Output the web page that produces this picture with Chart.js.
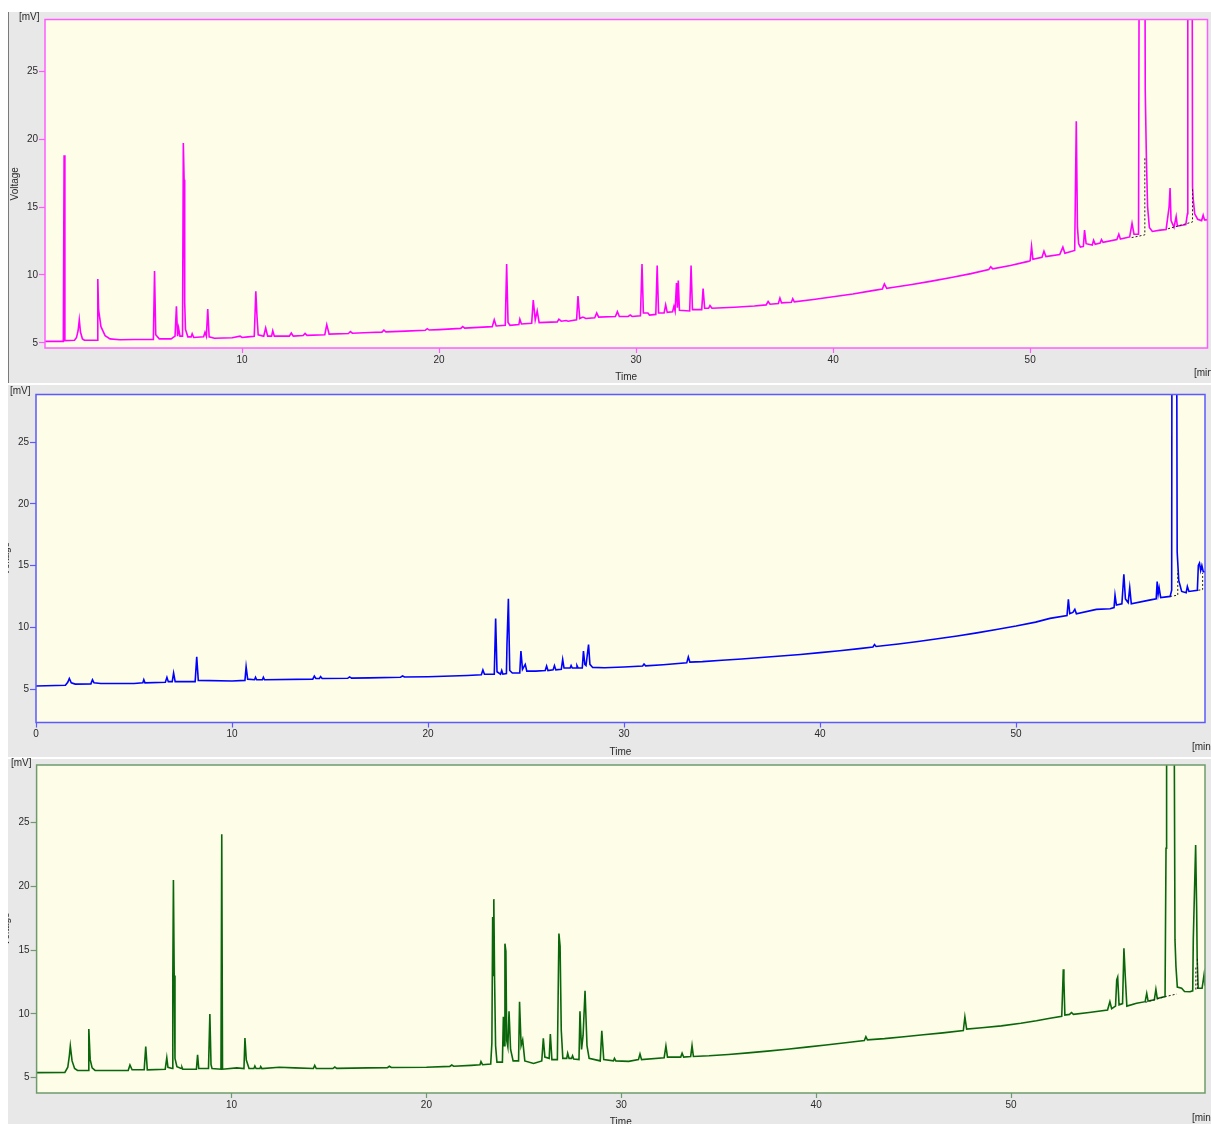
<!DOCTYPE html>
<html>
<head>
<meta charset="utf-8">
<title>Chromatograms</title>
<script src="https://cdn.jsdelivr.net/npm/chart.js@4.4.1/dist/chart.umd.min.js"></script>
<style>
  html, body { margin: 0; padding: 0; width: 1211px; height: 1124px; overflow: hidden; background: #ffffff; }
  .panel { position: absolute; background: #e8e8e8; }
  .panel canvas { display: block; }
  .lbl { position: absolute; font: 10px "Liberation Sans", Arial, sans-serif; color: #2a2a2a; white-space: nowrap; line-height: 12px; z-index: 5; }
</style>
</head>
<body>
<div class="panel" style="left:8px;top:12px;width:1203px;height:371px;"><canvas id="runA" width="1203" height="371"></canvas></div>
<div style="position:absolute;left:8px;top:12px;width:1px;height:371px;background:#7a7a7a;z-index:4;"></div>
<div class="panel" style="left:8px;top:385px;width:1203px;height:372px;"><canvas id="runB" width="1203" height="372"></canvas></div>
<div class="panel" style="left:8px;top:759px;width:1203px;height:370px;"><canvas id="runC" width="1203" height="370"></canvas></div>

<div class="lbl" style="left:19px;top:11px;">[mV]</div>
<div class="lbl" style="left:1194px;top:367px;">[min.]</div>
<div class="lbl" style="left:10px;top:385px;">[mV]</div>
<div class="lbl" style="left:1192px;top:741px;">[min.]</div>
<div class="lbl" style="left:11px;top:757px;">[mV]</div>
<div class="lbl" style="left:1192px;top:1112px;">[min.]</div>

<script>
// Tick values shared by the three runs
const voltageTicks = [5, 10, 15, 20, 25];
const timeTicksNoZero = [10, 20, 30, 40, 50];
const timeTicksWithZero = [0, 10, 20, 30, 40, 50];

// Run A (magenta): [time min, signal mV]
const magentaTrace = [
  [0,5.12],[0.93,5.12],[0.97,18.8],[1.01,5.17],[1.5,5.2],[1.6,5.4],[1.68,5.9],[1.74,6.7],[1.8,5.8],[1.9,5.3],[2.0,5.2],
  [2.64,5.2],[2.68,9.7],[2.72,7.45],[2.84,6.2],[3.05,5.54],[3.3,5.3],[3.8,5.24],[4.5,5.25],[5.5,5.25],[5.56,10.3],[5.62,5.6],
  [5.8,5.3],[6.4,5.3],[6.6,5.5],[6.67,7.7],[6.73,5.5],[6.78,6.1],[6.85,5.5],[6.98,5.5],[7.02,19.7],[7.06,17.0],[7.09,8.0],
  [7.13,6.0],[7.25,5.45],[7.42,5.45],[7.47,5.68],[7.55,5.4],[8.05,5.45],[8.12,5.78],[8.19,5.5],[8.26,7.5],[8.33,5.45],
  [8.6,5.35],[9.5,5.38],[9.9,5.5],[10.0,5.4],[10.3,5.45],[10.62,5.5],[10.7,8.8],[10.76,6.95],[10.82,5.6],[11.1,5.5],
  [11.2,6.1],[11.3,5.5],[11.5,5.5],[11.56,5.9],[11.64,5.5],[12.4,5.5],[12.5,5.73],[12.6,5.5],[13.1,5.55],[13.2,5.7],
  [13.3,5.56],[14.2,5.6],[14.3,6.35],[14.42,5.65],[15.4,5.7],[15.5,5.84],[15.6,5.72],[16.5,5.77],[17.1,5.8],[17.2,5.94],
  [17.3,5.82],[18.3,5.87],[19.3,5.93],[19.4,6.05],[19.5,5.95],[20,5.98],[21.1,6.07],[21.2,6.2],[21.3,6.09],[22,6.15],
  [22.7,6.2],[22.8,6.7],[22.9,6.25],[23.36,6.3],[23.43,10.8],
  [23.5,6.5],[23.6,6.3],[24.05,6.35],[24.1,6.75],[24.18,6.4],[24.7,6.45],[24.78,8.15],[24.88,6.7],[24.98,7.35],[25.08,6.5],
  [26.0,6.55],[26.08,6.75],[26.2,6.6],[26.45,6.65],[26.55,6.6],[26.98,6.7],[27.05,8.45],[27.14,6.8],[27.3,6.9],[27.45,6.8],
  [27.9,6.85],[28.0,7.2],[28.1,6.9],[28.95,6.95],[29.05,7.3],[29.15,6.95],[29.6,6.95],[29.7,7.05],[29.8,6.95],[30.22,7.0],
  [30.3,10.8],[30.37,7.2],[30.6,7.2],[30.68,7.05],[31.0,7.1],[31.07,10.7],[31.14,7.2],[31.42,7.2],[31.5,7.8],[31.58,7.25],
  [31.85,7.3],[31.92,7.7],[31.98,7.35],[32.05,9.4],[32.1,7.6],[32.14,9.6],[32.2,7.4],[32.72,7.35],[32.79,10.7],[32.86,7.45],
  [33.33,7.45],[33.4,9.0],[33.48,7.55],[33.68,7.55],[33.75,7.75],[33.85,7.55],[35,7.63],[36,7.72],[36.6,7.8],[36.7,8.05],
  [36.8,7.85],[37.22,7.9],[37.3,8.3],[37.38,7.95],[37.88,8.0],[37.95,8.25],[38.03,8.02],[39,8.2],[40,8.4],[41,8.6],
  [42,8.85],[42.5,8.97],[42.6,9.35],[42.72,9.02],[43,9.08],[44,9.3],[45,9.55],[46,9.82],[47,10.1],[47.9,10.4],[48.0,10.6],
  [48.1,10.45],[49,10.7],[49.9,11.0],[50.0,11.05],[50.07,12.1],[50.14,11.15],[50.6,11.3],
  [50.7,11.75],[50.8,11.35],[51.5,11.5],[51.66,12.05],[51.76,11.6],[52.26,11.8],[52.34,21.3],[52.4,13.5],[52.46,12.3],
  [52.55,12.05],[52.7,12.1],[52.76,13.3],[52.84,12.3],[53.15,12.2],[53.22,12.55],[53.3,12.25],[53.55,12.35],[53.62,12.6],
  [53.7,12.4],[54.4,12.6],[54.5,13.0],[54.58,12.65],[55.05,12.8],[55.17,13.8],[55.27,13.0],[55.5,13.0],[55.55,45],
  [55.81,45],[55.84,23.6],[55.9,18.5],[55.96,15.0],[56.05,13.5],[56.2,13.2],[56.6,13.3],[56.9,13.35],[57.05,15.0],
  [57.1,16.4],[57.15,14.0],[57.3,13.5],[57.41,14.3],[57.47,13.6],[57.9,13.7],[57.98,14.5],[58.0,45],[58.21,45],[58.24,16.5],
  [58.28,15.5],[58.35,14.5],[58.5,14.1],[58.7,14.0],[58.78,14.4],[58.85,14.05],[59.0,14.05]
];
const magentaDrops = [[55.15,12.75],[55.82,12.95],[55.82,18.6],[55.82,null],[57.0,13.4],[58.24,13.9],[58.24,16.3]];

// Run B (blue)
const blueTrace = [
  [0,5.25],[1.5,5.3],[1.62,5.55],[1.7,5.85],[1.8,5.5],[2.0,5.4],[2.8,5.42],[2.88,5.75],[2.96,5.5],[3.3,5.45],[5.0,5.45],
  [5.45,5.5],[5.5,5.75],[5.56,5.5],[6.6,5.55],[6.68,5.95],[6.75,5.6],[6.95,5.6],[7.02,6.3],[7.1,5.6],[8.12,5.6],[8.2,7.6],
  [8.28,5.7],[10.0,5.65],[10.66,5.7],[10.72,6.8],[10.8,5.8],[11.15,5.75],[11.2,5.95],[11.26,5.75],[11.55,5.75],[11.6,5.95],
  [11.66,5.75],[14.12,5.8],[14.2,6.05],[14.28,5.85],[14.46,5.85],[14.52,6.0],[14.6,5.85],[15.9,5.87],[16.0,5.98],[16.1,5.88],
  [17,5.9],[18.6,5.96],[18.7,6.06],[18.8,5.97],[20,6.0],[22.0,6.1],
  [22.72,6.15],[22.8,6.55],[22.88,6.2],[23.38,6.2],[23.45,10.7],[23.52,6.4],[23.7,6.2],[23.76,6.5],[23.82,6.2],[24.0,6.25],
  [24.03,8.7],[24.1,12.3],[24.17,6.5],[24.3,6.3],[24.68,6.3],[24.74,8.08],[24.82,6.6],[24.96,7.0],[25.04,6.45],[25.5,6.45],
  [25.98,6.5],[26.05,6.86],[26.12,6.5],[26.38,6.55],[26.45,6.9],[26.52,6.55],[26.8,6.6],[26.87,7.4],[26.94,6.7],[27.25,6.7],
  [27.3,6.9],[27.36,6.7],[27.55,6.7],[27.6,6.9],[27.66,6.7],[27.87,6.7],[27.93,8.08],[28.0,7.0],[28.06,6.9],[28.19,8.6],
  [28.26,7.0],[28.4,6.75],[29,6.72],[30,6.78],[30.95,6.87],[31.02,7.02],[31.1,6.88],[32,6.97],[33.2,7.12],[33.28,7.6],
  [33.36,7.18],[34,7.22],[35,7.33],[36,7.43],[37,7.55],[38,7.67],[39,7.8],[40,7.95],[41,8.1],[42,8.27],[42.7,8.4],
  [42.78,8.6],[42.86,8.45],[44,8.65],[45,8.85],[46,9.07],[47,9.3],[48,9.55],[49,9.82],[50,10.1],[51,10.42],[51.73,10.72],
  [52.6,10.95],
  [52.67,12.26],[52.74,11.1],[52.9,11.2],[53.0,11.45],[53.08,11.1],[54.1,11.45],[54.8,11.5],[55.0,11.6],[55.05,12.6],
  [55.12,11.8],[55.4,11.9],[55.5,14.3],[55.58,12.3],[55.72,12.0],[55.8,13.2],[55.88,11.9],[56.8,12.2],[57.15,12.3],
  [57.2,13.7],[57.25,12.7],[57.3,13.2],[57.38,12.4],[57.86,12.5],[57.94,13.0],[57.96,45],[58.18,45],[58.22,16.1],
  [58.3,13.8],[58.45,12.9],[58.68,12.8],[58.74,13.3],[58.82,12.9],[59.25,13.0],[59.3,15.0],[59.36,15.2],[59.42,14.6],
  [59.48,15.0],[59.55,14.5],[59.64,14.5]
];
const blueDrops = [[57.86,12.5],[58.25,12.6],[58.25,14.6],[58.25,null],[59.3,13.0],[59.52,13.05],[59.52,14.4]];

// Run C (green)
const greenTrace = [
  [0,5.38],[1.45,5.4],[1.6,5.8],[1.68,6.7],[1.73,7.47],[1.82,6.3],[1.95,5.7],[2.1,5.55],[2.64,5.55],[2.68,8.8],[2.75,6.4],
  [2.85,5.75],[3.0,5.55],[4.7,5.55],[4.79,5.98],[4.9,5.6],[5.52,5.6],[5.6,7.42],[5.68,5.6],[6.6,5.65],[6.68,6.55],
  [6.74,5.8],[6.96,5.7],[6.99,13.0],[7.02,20.5],[7.06,13.0],[7.1,6.5],[7.2,5.85],[7.42,5.7],[7.46,5.8],[7.5,5.65],
  [8.2,5.65],[8.26,6.77],[8.32,5.7],[8.82,5.7],[8.89,9.98],[8.95,6.0],[9.0,5.7],[9.46,5.65],[9.5,24.1],[9.54,5.65],
  [10.27,5.75],[10.64,5.7],[10.69,8.1],[10.76,6.37],[10.9,5.7],[11.15,5.7],[11.2,5.9],[11.26,5.7],[11.46,5.7],[11.5,5.85],
  [11.56,5.7],[12.45,5.8],[13.25,5.75],[14.2,5.7],[14.27,5.95],[14.35,5.7],[15.2,5.7],[15.3,5.82],[15.4,5.71],[17,5.75],
  [18.0,5.77],[18.1,5.88],[18.2,5.78],[20,5.8],[21.2,5.87],[21.3,5.98],[21.4,5.88],[22.3,5.95],[22.75,6.0],
  [22.8,6.24],[22.88,6.0],[23.3,6.05],[23.36,7.7],[23.4,17.6],[23.43,13.0],[23.46,19.0],[23.5,12.6],[23.55,7.5],[23.62,6.2],
  [23.9,6.2],[23.95,9.77],[23.99,7.5],[24.03,15.5],[24.08,14.9],[24.12,7.9],[24.18,7.4],[24.24,10.2],[24.32,7.2],[24.45,6.3],
  [24.73,6.3],[24.78,10.95],[24.86,7.5],[24.94,7.95],[25.05,6.3],[25.5,6.1],[25.92,6.3],[26.0,8.07],[26.08,6.6],[26.3,6.5],
  [26.36,8.41],[26.44,6.4],[26.72,6.4],[26.8,16.3],[26.86,15.3],[26.92,8.7],[27.0,6.5],[27.2,6.5],[27.25,6.9],[27.32,6.5],
  [27.45,6.5],[27.5,6.7],[27.56,6.45],[27.83,6.4],[27.88,10.2],[27.96,7.2],[28.04,8.3],[28.14,11.8],[28.24,7.5],[28.35,6.5],
  [28.92,6.3],[29.0,8.67],[29.1,6.4],[29.6,6.3],[29.65,6.5],[29.72,6.3],[30.38,6.26],[30.88,6.4],[30.96,6.84],[31.04,6.4],
  [32.2,6.55],[32.29,7.47],[32.37,6.6],[33.05,6.6],[33.12,6.9],[33.2,6.6],[33.56,6.65],[33.63,7.5],[33.7,6.65],[34.5,6.7],
  [35.5,6.8],[36.5,6.93],[37.5,7.07],[38.5,7.22],[39.5,7.38],[40.5,7.55],[41.5,7.72],[42.47,7.9],[42.55,8.2],[42.63,7.95],
  [43.5,8.05],[44.5,8.2],[45.5,8.35],[46.5,8.5],[47.55,8.68],[47.63,9.75],[47.72,8.8],[48.5,8.9],[49.5,9.05],[50.5,9.25],
  [51.3,9.45],[52.0,9.65],[52.6,9.8],[52.68,13.5],[52.71,12.65],[52.76,9.9],[53.0,9.95],[53.1,10.1],[53.2,9.95],[54.0,10.1],
  [54.95,10.3],
  [55.07,10.95],[55.16,10.4],[55.36,10.6],[55.42,12.65],[55.47,12.87],[55.54,10.7],[55.72,10.8],[55.79,15.14],[55.86,12.9],
  [55.94,10.6],[56.44,10.82],[56.88,10.95],[56.96,11.6],[57.03,11.0],[57.35,11.1],[57.43,11.92],[57.5,11.2],[57.9,11.35],
  [57.95,23.0],[57.98,45],[58.34,45],[58.41,15.8],[58.46,13.7],[58.53,12.1],[58.75,12.0],[58.9,11.75],[59.18,11.73],
  [59.32,11.8],[59.35,15.9],[59.47,23.25],[59.52,18.4],[59.55,14.2],[59.6,12.0],[59.8,12.0],[59.9,13.05],[59.95,12.2]
];
const greenDrops = [[56.9,10.9],[57.92,11.35],[58.5,11.55],[58.5,null],[59.48,11.9],[59.48,13.7],[59.48,null],[59.56,11.95],[59.56,14.4]];

const FONT = { family: '"Liberation Sans", Arial, sans-serif', size: 10 };

// Fills the plot area and outlines it in the run colour
const framePlugin = {
  id: 'frame',
  beforeDraw(chart, args, opts) {
    const { ctx, chartArea: a } = chart;
    ctx.save();
    ctx.fillStyle = opts.fill;
    ctx.fillRect(a.left, a.top, a.right - a.left, a.bottom - a.top);
    ctx.restore();
  },
  afterDraw(chart, args, opts) {
    const { ctx, chartArea: a } = chart;
    ctx.save();
    ctx.strokeStyle = opts.stroke;
    ctx.lineWidth = opts.width;
    ctx.strokeRect(a.left, a.top, a.right - a.left, a.bottom - a.top);
    ctx.restore();
  }
};

function zeroPadding(s) {
  s.paddingLeft = 0; s.paddingRight = 0; s.paddingTop = 0; s.paddingBottom = 0;
}

function buildRun(id, o) {
  return new Chart(document.getElementById(id), {
    type: 'line',
    data: {
      datasets: [
        { data: o.trace, borderColor: o.lineColor, borderWidth: 1.6, pointRadius: 0, tension: 0, order: 2 },
        { data: o.drops, borderColor: '#1e1e1e', borderWidth: 1, borderDash: [2, 2], pointRadius: 0, tension: 0, order: 1 }
      ]
    },
    options: {
      responsive: false,
      animation: false,
      devicePixelRatio: 1,
      layout: { padding: o.pad },
      plugins: {
        legend: { display: false },
        tooltip: { enabled: false },
        frame: { fill: '#fdfde8', stroke: o.frameColor, width: 1.5 }
      },
      scales: {
        x: {
          type: 'linear', min: 0, max: o.xMax, bounds: 'data',
          afterBuildTicks: s => { s.ticks = o.xTicks.map(v => ({ value: v })); },
          afterFit: s => { s.height = o.xAxisH; zeroPadding(s); },
          grid: { display: true, drawOnChartArea: false, drawTicks: true, tickLength: 5, tickColor: o.frameColor, tickWidth: 1.2 },
          border: { display: false },
          ticks: { color: '#2a2a2a', font: FONT, padding: 1, maxRotation: 0, autoSkip: false },
          title: { display: true, text: 'Time', color: '#2a2a2a', font: FONT, padding: { top: 0, bottom: o.timePad } }
        },
        y: {
          type: 'linear', min: o.yMin, max: o.yMax, bounds: 'data',
          afterBuildTicks: s => { s.ticks = voltageTicks.map(v => ({ value: v })); },
          afterFit: s => { s.width = o.yAxisW; zeroPadding(s); },
          grid: { display: true, drawOnChartArea: false, drawTicks: true, tickLength: 6, tickColor: o.frameColor, tickWidth: 1.2 },
          border: { display: false },
          ticks: { color: '#2a2a2a', font: FONT, padding: 1, autoSkip: false },
          title: { display: true, text: 'Voltage', color: '#2a2a2a', font: FONT, padding: { top: o.voltPad, bottom: 0 } }
        }
      }
    },
    plugins: [framePlugin]
  });
}

buildRun('runA', {
  trace: magentaTrace, drops: magentaDrops, lineColor: '#ff00ff', frameColor: '#ff5cff',
  xMax: 59.0, yMin: 4.63, yMax: 28.79, xTicks: timeTicksNoZero,
  pad: { left: 0, top: 7.5, right: 3.5, bottom: 0 }, yAxisW: 37, xAxisH: 35, timePad: 0, voltPad: 1
});
buildRun('runB', {
  trace: blueTrace, drops: blueDrops, lineColor: '#0000ff', frameColor: '#5a5aff',
  xMax: 59.64, yMin: 2.29, yMax: 28.85, xTicks: timeTicksWithZero,
  pad: { left: 0, top: 9.5, right: 6, bottom: 0 }, yAxisW: 28, xAxisH: 34.5, timePad: -1, voltPad: -8
});
buildRun('runC', {
  trace: greenTrace, drops: greenDrops, lineColor: '#0a660a', frameColor: '#6e9a6e',
  xMax: 59.95, yMin: 3.78, yMax: 29.53, xTicks: timeTicksNoZero,
  pad: { left: 0, top: 6, right: 6, bottom: 0 }, yAxisW: 28.6, xAxisH: 36, timePad: 1, voltPad: -8
});
</script>
</body>
</html>
